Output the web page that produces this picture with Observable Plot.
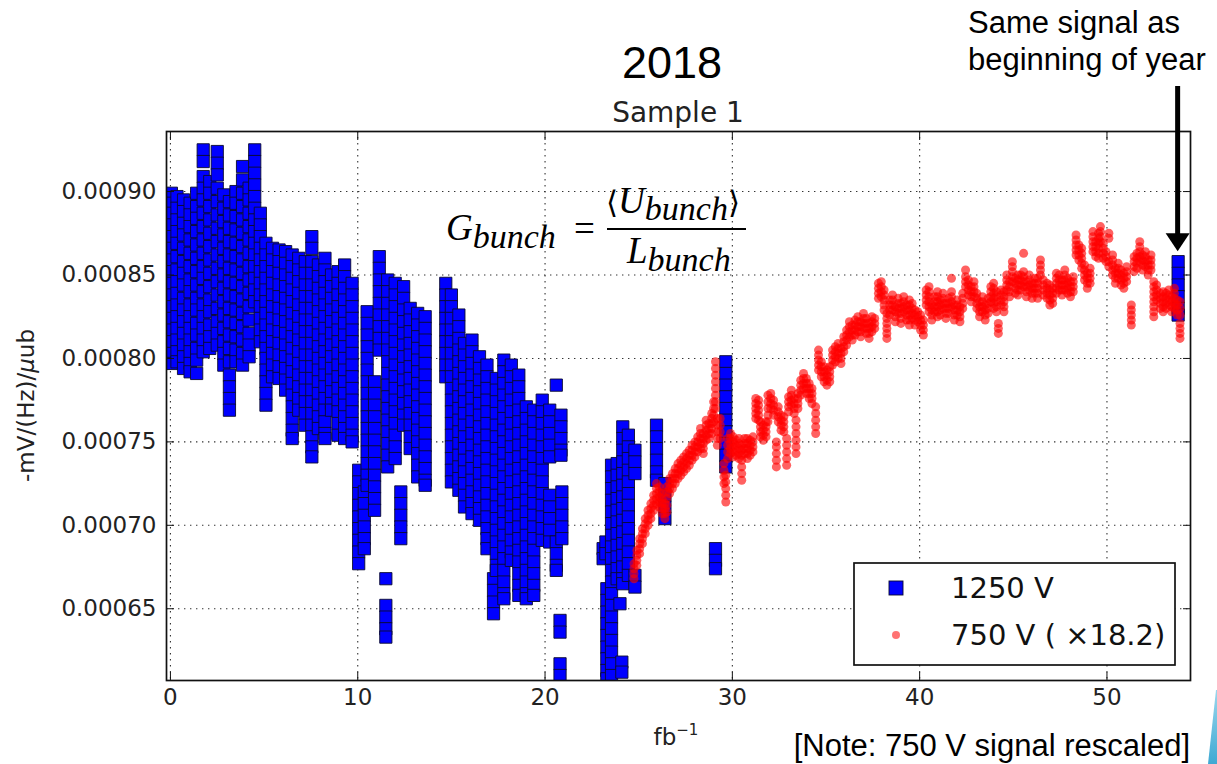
<!DOCTYPE html>
<html>
<head>
<meta charset="utf-8">
<script src="https://cdn.jsdelivr.net/npm/d3@7"></script>
<script src="https://cdn.jsdelivr.net/npm/@observablehq/plot@0.6"></script>
<style>
  html, body { margin: 0; padding: 0; background: #fff; }
  #chart { position: relative; width: 1217px; height: 764px; overflow: hidden; }
</style>
</head>
<body>
<div id="chart"></div>
<script>
// ---------------------------------------------------------------------------
// Gain per bunch vs. integrated luminosity, 2018, sample 1
// ---------------------------------------------------------------------------
const xTicks = [0, 10, 20, 30, 40, 50];
const yTicks = [0.00065, 0.00070, 0.00075, 0.00080, 0.00085, 0.00090];
const seriesNames = ["1250 V", "750 V ( \u00d718.2)"];
const gainUnit = 1e-6; // gains below are listed in units of 1e-6 mV/(Hz/μb)

// 1250 V running: one row per fill -> [fb^-1, gains]
const blue1250 = [
  [0.05, [899,893,887,880,873,866,859,852,845,838,831,824,817,810,803,797]],
  [0.35, [897,890,883,876,869,861,853,846,839,832,825,818,811,804,798]],
  [0.7,  [895,888,881,874,866,858,851,844,836,829,822,815,808,801,794]],
  [1.05, [893,886,879,871,863,855,847,840,832,825,818,811,804,797,792]],
  [1.4,  [899,891,884,876,868,860,852,844,836,829,821,814,806,799,791]],
  [1.75, [925,918,909,902,895,887,879,871,863,855,848,840,832,825,818,811,804]],
  [2.1,  [906,899,891,883,875,867,859,851,843,835,828,820,813,806]],
  [2.5,  [924,917,910,902,894,886,878,870,862,854,846,838,830,822,815,808]],
  [2.85, [898,890,882,874,866,858,850,842,834,826,818,810,803,796]],
  [3.15, [894,886,878,870,862,854,846,838,830,822,814,806,798,790,783,776,769]],
  [3.5,  [900,893,885,877,869,861,853,845,837,829,821,813,805,798]],
  [3.85, [915,907,899,891,883,875,867,859,851,843,835,827,819,811,803,796]],
  [4.2,  [902,895,887,879,871,863,855,847,839,831,823,815,808,801]],
  [4.5,  [925,918,911,904,897,890,883,876,869,862,855,848,841,834]],
  [4.8,  [887,880,873,866,859,852,845,838,831,824,817,810]],
  [5.1,  [869,862,855,848,841,834,827,820,813,806,800,793,786,779,772]],
  [5.45, [866,859,852,845,838,831,824,817,810,803,796,789]],
  [5.8,  [865,858,851,844,837,830,823,816,809,802,795,788]],
  [6.15, [864,857,850,843,836,829,822,815,808,801,794,787,781]],
  [6.5,  [862,855,848,841,834,827,820,813,806,799,792,785,778,771,764,757,752]],
  [6.85, [860,853,846,839,832,825,818,811,804,797,790,783,776,769]],
  [7.2,  [858,851,844,837,830,823,816,809,802,795,788,781,774,767,760]],
  [7.55, [873,866,858,851,844,837,830,823,816,809,802,795,788,781,774,767,760,753,747,741]],
  [7.9,  [856,849,842,835,828,821,814,807,800,793,786,779,772,765,758]],
  [8.25, [860,853,846,839,832,825,818,811,804,797,790,783,776,769,762,755,752]],
  [8.6,  [850,843,836,829,822,815,808,801,794,787,780,773,769]],
  [8.95, [852,845,838,831,824,817,810,803,796,789,782,775,768,761,754]],
  [9.3,  [856,849,842,835,828,821,814,807,800,793,786,779,772,765,758,752]],
  [9.7,  [845,838,831,824,817,810,803,796,789,782,775,768,761,754,750]],
  [10.05,[733,726,719,712,705,698,691,684,677]],
  [10.35,[720,713,706,699,692,686]],
  [10.5, [828,821,814,807,800,793,786,779,772,765,758,751,744,737,730,724]],
  [10.9, [786,779,772,765,758,751,744,737,730,723,716,709]],
  [11.15,[861,854,847,840,833,826,819,812,805]],
  [11.5, [668,652,645,638,633]],
  [11.6, [847,840,833,826,819,812,805,798,791,784,777,770,763,756,749,742,735]],
  [12.0, [845,838,831,824,817,810,803,796,789,782,775,768,761,754,747,740]],
  [12.3, [720,713,706,699,692]],
  [12.45,[843,836,829,822,815,808,801,794,787,780,773,766,760]],
  [12.8, [830,823,816,809,802,795,788,781,774,767,760,753,746]],
  [13.2, [827,820,813,806,799,792,785,778,771,764,757,750,743,736,729]],
  [13.6, [825,818,811,804,797,790,783,776,769,762,755,748,741,734,727,724]],
  [14.7, [845,838,831,824,817,810,803,796,789]],
  [15.0, [838,831,824,817,810,803,796,789,782,775,768,761,754,747,740,733,726]],
  [15.4, [826,819,812,805,798,791,784,777,770,763,756,749,742,735,728,721]],
  [15.7, [809,802,795,788,781,774,767,760,753,746,739,732,725,718,711]],
  [16.1, [811,804,797,790,783,776,769,762,755,748,741,734,727,720,713,707]],
  [16.5, [801,794,787,780,773,766,759,752,745,738,731,724,717,710,703]],
  [16.9, [796,789,782,775,768,761,754,747,740,733,726,719,712,705,698,692,686]],
  [17.25,[668,661,654,647]],
  [17.4, [788,781,774,767,760,753,746,739,732,725,718,711,704,697,690,683,676,673]],
  [17.8, [799,792,785,778,771,764,757,750,743,736,729,722,715,708,701,694,687,680,673,666,659,656]],
  [18.2, [796,789,782,775,768,761,754,747,740,733,726,719,712,705,698,691,684,679]],
  [18.6, [790,783,776,769,762,755,748,741,734,727,720,713,706,699,692,685,678,671,664,658]],
  [19.0, [771,764,757,750,743,736,729,722,715,708,701,694,687,680,673,666,659,656]],
  [19.4, [769,762,755,748,741,734,727,720,713,706,699,692,685,678,671,664,658]],
  [19.85,[775,768,761,754,747,740,733,726,719,712,705,698,691]],
  [20.25,[769,762,755,748,741,718,711,704,697,690]],
  [20.6, [784,690,683,676,673]],
  [20.8, [643,636,617,610]],
  [20.85,[766,759,752,745,742]],
  [20.9, [720,713,706,699,692]],
  [23.1, [686,680]],
  [23.25,[690,683]],
  [23.3, [662,655,648,641,634,627,620,613,608]],
  [23.55,[736,729,722,715,708,701,694,687,680,673,666,659,652,645,638,631,624,617,610]],
  [23.85,[737,730,723,716,709,702,695,688,681,674,668]],
  [24.0, [653]],
  [24.1, [618,612]],
  [24.15,[759,752,745,738,731,724,717,710,703,696,689,682,675,668,665]],
  [24.45,[754,747,740,733,726,719,712,705,698,691,684,677,670]],
  [24.8, [745,738,731,670,663]],
  [25.95,[760,753,746,739,732,727]],
  [26.4, [725,718,711,704]],
  [29.1, [686,679,674]],
  [29.65,[798,791,784,777,770,763,756,749,742,735]],
  [53.8, [858,851,844,837,830,826]]
];

// 750 V running, rescaled by x18.2: [fb^-1, gains]
const red750 = [
  [24.75,[668,671,674,677]],[24.9,[676,679,682,685]],[25.05,[683,686,689,692]],[25.2,[689,692,695,698]],
  [25.35,[695,698,701,704]],[25.5,[700,703,706,709]],[25.65,[704,707,710,713]],[25.8,[709,712,715,718]],
  [25.95,[713,716,719,722,725]],[26.1,[711,714,717,720,723]],[26.25,[707,710,713,716,719]],
  [26.4,[704,707,710,713]],[26.5,[708,712,716,720,723]],[26.65,[719,722,725,728]],[26.8,[722,725,728,731]],
  [26.95,[725,728,731,734]],[27.1,[728,731,734,737]],[27.25,[730,733,736,739]],[27.4,[732,735,738,741]],
  [27.55,[734,737,740,743]],[27.7,[736,739,742,745]],[27.85,[739,742,745,748]],[28.0,[741,744,747,750]],
  [28.15,[744,747,750,753]],[28.3,[746,749,752,755,758]],[28.45,[743,746,749,752,755]],
  [28.6,[751,754,757,760,763]],[28.75,[752,755,758,761]],[28.9,[755,758,761,764,767]],
  [29.0,[762,766,770,774]],[29.1,[770,774,778,782,786,790,794,798]],[29.2,[748,752,756,760,764]],
  [29.35,[752,756,760,764]],[29.55,[725,729,733,737]],[29.65,[714,718,722,726,730]],
  [29.75,[740,744,748,752]],[29.9,[743,746,749,752,755]],[30.05,[741,744,747,750,753]],
  [30.2,[742,745,748,751]],[30.35,[740,743,746,749,752]],[30.5,[727,731,735,739,742,745,748]],
  [30.65,[743,746,749,752]],[30.8,[740,743,746,749,752]],[30.95,[742,745,748,751]],
  [31.1,[744,747,750,753]],[31.25,[764,767,770,773,776]],[31.4,[763,766,769,772,775]],
  [31.5,[753,756,759,762]],[31.65,[751,754,757,760]],[31.8,[753,756,759,762]],
  [31.9,[762,766,770,774,778]],[32.05,[770,773,776,779]],[32.2,[766,769,772,775]],
  [32.35,[735,739,743,747,750]],[32.45,[762,765,768,771]],[32.6,[757,760,763,766]],
  [32.75,[756,759,762,765]],[32.9,[736,740,744,748,752]],[33.0,[768,771,774,777]],
  [33.15,[772,775,778,781]],[33.3,[767,770,773,776]],[33.4,[743,747,751,755,759,763]],
  [33.5,[770,773,776,779]],[33.65,[778,781,784,787]],[33.8,[782,785,788,791]],
  [33.95,[779,782,785,788]],[34.1,[776,779,782,785]],[34.25,[773,776,779,782]],
  [34.45,[755,759,763,767,771]],[34.6,[793,796,799,802,805]],[34.75,[789,792,795,798]],
  [34.9,[786,789,792,795]],[35.05,[784,787,790,793]],[35.2,[786,789,792,795]],
  [35.35,[796,799,802,805]],[35.5,[798,801,804,807]],[35.65,[800,803,806,809]],
  [35.8,[797,800,803,806]],[35.95,[804,807,810,813]],[36.1,[808,811,814,817]],
  [36.25,[813,816,819,822]],[36.4,[811,814,817,820]],[36.55,[814,817,820,823]],
  [36.7,[816,819,822,825]],[36.85,[813,816,819,822]],[37.0,[818,821,824,827]],
  [37.15,[815,818,821,824]],[37.3,[812,815,818,821]],[37.45,[816,819,822,825]],
  [37.6,[818,821,824]],[37.8,[836,839,842,845]],[37.95,[837,840,843,846]],
  [38.1,[829,832,835,838,841]],[38.25,[812,815,818,821,824,827]],[38.4,[826,829,832,835]],
  [38.55,[829,832,835,838]],[38.7,[822,825,828,831]],[38.85,[827,830,833,836]],
  [39.0,[821,824,827,830,833]],[39.15,[828,831,834,837]],[39.3,[823,826,829,832]],
  [39.45,[820,823,826,829,832,835]],[39.6,[824,827,830,833]],[39.75,[820,823,826,829]],
  [39.9,[822,825,828]],[40.05,[817,820,823,826]],[40.2,[814,817,820,823]],
  [40.35,[832,835,838,841]],[40.5,[828,831,834,837,840,843]],[40.65,[823,826,829,832]],
  [40.8,[828,831,834,837]],[40.95,[825,828,831,834,837,840]],[41.1,[826,829,832,835]],
  [41.25,[830,833,836,839]],[41.4,[824,827,830,833]],[41.55,[827,830,833,836]],
  [41.7,[831,834,837,840,848]],[41.85,[823,826,829,832]],[42.0,[826,829,832,835]],
  [42.15,[822,825,828,831]],[42.3,[830,833,836,839]],[42.45,[843,846,849,853]],
  [42.6,[838,841,844,847]],[42.75,[834,837,840,843]],[42.9,[837,840,843,846]],
  [43.05,[830,833,836,839]],[43.2,[825,828,831,834]],[43.35,[828,831,834,837]],
  [43.5,[823,826,829,832]],[43.65,[827,830,833,836]],[43.8,[834,837,840,843]],
  [43.95,[830,833,836,839,842,845]],[44.1,[828,831,834,837,840]],[44.2,[815,818,821]],
  [44.35,[832,835,838,841]],[44.5,[828,831,834,837,840]],[44.65,[841,844,847,850]],
  [44.8,[837,840,843,846]],[44.95,[846,849,852,855,858]],[45.1,[839,842,845,848]],
  [45.25,[838,841,844,847,850]],[45.4,[841,844,847,850]],[45.55,[843,846,849,852,863]],
  [45.7,[837,840,843,846]],[45.85,[841,844,847,850]],[46.0,[836,839,842,845]],
  [46.15,[839,842,845,848]],[46.3,[836,839,842,845,848]],[46.45,[850,853,856,859]],
  [46.6,[838,841,844,847]],[46.8,[836,839,842,845]],[46.95,[832,835,838,841,844]],
  [47.1,[833,836,839,842]],[47.3,[839,842,845,848,851]],[47.45,[841,844,847,850]],
  [47.6,[838,841,844,847]],[47.75,[841,844,847,850,853]],[47.9,[839,842,845,848]],
  [48.05,[837,840,843,846]],[48.2,[840,843,846,849]],[48.35,[862,865,868,871,874]],
  [48.5,[859,862,865,868]],[48.65,[854,857,860,863,866]],[48.8,[847,850,853,856]],
  [48.95,[842,845,848,851]],[49.1,[845,848,851,854]],[49.25,[864,867,870,873,876]],
  [49.4,[861,864,867,870]],[49.55,[860,863,866,869,872,875]],[49.65,[870,873,876,879]],
  [49.8,[860,863,866,869]],[49.95,[858,861,864]],[50.1,[855,858,872,875]],
  [50.3,[850,853,856,859,862]],[50.45,[845,848,851,854]],[50.6,[848,851,854,857]],
  [50.75,[844,847,850,853]],[50.9,[842,845,848,851]],[51.05,[846,849,852,855]],
  [51.3,[820,823,826,829,832]],[51.45,[852,855,858,861]],[51.6,[854,857,860,863]],
  [51.75,[858,861,864,867,870]],[51.9,[853,856,859,862]],[52.05,[855,858,861,864]],
  [52.2,[850,853,856,859]],[52.35,[853,856,859,862]],[52.5,[825,828,831,834,837,840,843,846]],
  [52.65,[835,838,841,844]],[52.85,[830,833,836,839]],[53.0,[828,831,834,837,840]],
  [53.15,[830,833,836,839]],[53.3,[832,835,838,841]],[53.45,[828,831,834,837]],
  [53.6,[830,833,836,839,842]],[53.75,[826,829,832,835]],[53.9,[812,815,818,821,826,830,834]]
];

// the fill that the arrow points at
const arrowTarget = {x: 53.8, y: 864e-6};

// ---------------------------------------------------------------------------
const toRows = (cols) => cols.flatMap(([x, ys]) => ys.map((g) => ({x, y: g * gainUnit})));
const bluePts = toRows(blue1250);
const redPts = toRows(red750);

const W = 1217, H = 764;
const M = {top: 131, right: 27, bottom: 84, left: 166};
const dotted = {stroke: "#333", strokeWidth: 1.1, strokeDasharray: "1.4,4.6"};

const chart = Plot.plot({
  width: W,
  height: H,
  marginTop: M.top,
  marginRight: M.right,
  marginBottom: M.bottom,
  marginLeft: M.left,
  style: {fontFamily: "'DejaVu Sans', sans-serif", fontSize: "23px", color: "#222", background: "#fff"},
  x: {domain: [-0.21, 54.46], label: null},
  y: {domain: [0.000607, 0.000936], label: null},
  marks: [
    Plot.gridX(xTicks, {...dotted, strokeOpacity: 1}),
    Plot.gridY(yTicks, {...dotted, strokeOpacity: 1}),
    Plot.dot(bluePts, {x: "x", y: "y", symbol: "square", r: 6.9, fill: "#0000ff", stroke: "#0b0b2e", strokeWidth: 0.9, clip: true}),
    Plot.dot(redPts, {x: "x", y: "y", r: 4.5, fill: "#ff0000", fillOpacity: 0.62, stroke: "none", clip: true}),
    Plot.frame({stroke: "#111", strokeWidth: 1.7}),
    Plot.axisX(xTicks, {anchor: "bottom", tickSize: -8, tickPadding: 16, tickFormat: (d) => String(d), stroke: "#111"}),
    Plot.axisX(xTicks, {anchor: "top", tickSize: -8, tickFormat: () => "", stroke: "#111"}),
    Plot.axisY(yTicks, {anchor: "left", tickSize: -8, tickPadding: 18, tickFormat: d3.format(".5f"), stroke: "#111"}),
    Plot.axisY(yTicks, {anchor: "right", tickSize: -8, tickFormat: () => "", stroke: "#111"})
  ]
});

document.getElementById("chart").appendChild(chart);

// ---------------------------------------------------------------------------
// Titles, axis labels, formula, legend and annotations
// ---------------------------------------------------------------------------
const svg = d3.select(chart);
const sx = chart.scale("x"), sy = chart.scale("y");
const frameCx = (M.left + W - M.right) / 2;
const sans = "'Liberation Sans', Arial, sans-serif";
const dejavu = "'DejaVu Sans', sans-serif";
const ann = svg.append("g").attr("text-anchor", "start");

ann.append("text").attr("x", frameCx - 6).attr("y", 78).attr("text-anchor", "middle")
  .attr("font-family", sans).attr("font-size", 45).attr("fill", "#000").text("2018");
ann.append("text").attr("x", frameCx).attr("y", 122).attr("text-anchor", "middle")
  .attr("font-family", dejavu).attr("font-size", 28).attr("fill", "#222").text("Sample 1");

// y-axis label
const yl = ann.append("text").attr("transform", `translate(34,${(M.top + H - M.bottom) / 2}) rotate(-90)`)
  .attr("text-anchor", "middle").attr("font-family", dejavu).attr("font-size", 23).attr("fill", "#222");
yl.append("tspan").text("-mV/(Hz)/");
yl.append("tspan").attr("font-style", "italic").text("\u03bc");
yl.append("tspan").text("ub");

// x-axis label
const xl = ann.append("text").attr("x", 676).attr("y", 745).attr("text-anchor", "middle")
  .attr("font-family", dejavu).attr("font-size", 23).attr("fill", "#222");
xl.append("tspan").text("fb");
xl.append("tspan").attr("font-size", 15).attr("dy", -10).text("\u22121");

// gain definition
const serif = "'Liberation Serif', 'DejaVu Serif', serif";
const fg = ann.append("g").attr("font-family", serif).attr("fill", "#000").attr("text-anchor", "start");
const gT = fg.append("text").attr("x", 446).attr("y", 240).attr("font-size", 37).attr("font-style", "italic");
gT.append("tspan").text("G");
gT.append("tspan").attr("font-size", 34).attr("dy", 8).text("bunch");
fg.append("text").attr("x", 574).attr("y", 241).attr("font-size", 37).text("=");
const numT = fg.append("text").attr("x", 606).attr("y", 213).attr("font-size", 37);
numT.append("tspan").attr("font-family", dejavu).attr("font-size", 31).text("\u27e8");
numT.append("tspan").attr("font-style", "italic").text("U");
numT.append("tspan").attr("font-style", "italic").attr("font-size", 34).attr("dy", 7).text("bunch");
numT.append("tspan").attr("font-family", dejavu).attr("font-size", 31).attr("dy", -7).text("\u27e9");
fg.append("line").attr("x1", 607).attr("x2", 746).attr("y1", 229).attr("y2", 229)
  .attr("stroke", "#000").attr("stroke-width", 2);
const denT = fg.append("text").attr("x", 627).attr("y", 263).attr("font-size", 37).attr("font-style", "italic");
denT.append("tspan").text("L");
denT.append("tspan").attr("font-size", 34).attr("dy", 8).text("bunch");

// legend
const lg = ann.append("g");
lg.append("rect").attr("x", 854).attr("y", 563).attr("width", 321).attr("height", 102)
  .attr("fill", "#fff").attr("stroke", "#111").attr("stroke-width", 1.7);
lg.append("rect").attr("x", 889).attr("y", 581).attr("width", 14).attr("height", 14)
  .attr("fill", "#0000ff").attr("stroke", "#0b0b2e").attr("stroke-width", 0.9);
lg.append("circle").attr("cx", 896).attr("cy", 635).attr("r", 4).attr("fill", "#ff0000").attr("fill-opacity", 0.55);
lg.selectAll("text.entry").data(seriesNames).join("text").attr("class", "entry")
  .attr("x", 951).attr("y", (d, i) => 598 + i * 47).attr("text-anchor", "start")
  .attr("font-family", dejavu).attr("font-size", 29).attr("fill", "#111").text((d) => d);

// arrow pointing at the last 1250 V fill
const ax = sx.apply(arrowTarget.x), ay = sy.apply(arrowTarget.y);
ann.append("line").attr("x1", ax).attr("x2", ax).attr("y1", 86).attr("y2", ay - 14)
  .attr("stroke", "#000").attr("stroke-width", 5);
ann.append("path").attr("d", `M${ax - 12},${ay - 18}L${ax + 12},${ay - 18}L${ax},${ay}Z`).attr("fill", "#000");

const an = ann.append("text").attr("font-family", sans).attr("font-size", 31).attr("fill", "#000").attr("text-anchor", "start");
an.append("tspan").attr("x", 968).attr("y", 33).text("Same signal as");
an.append("tspan").attr("x", 968).attr("y", 70).text("beginning of year");

ann.append("text").attr("x", 1190).attr("y", 756).attr("text-anchor", "end")
  .attr("font-family", sans).attr("font-size", 31).attr("fill", "#000").text("[Note: 750 V signal rescaled]");

// slide corner accent
const defs = svg.append("defs");
const grad = defs.append("linearGradient").attr("id", "accent").attr("x1", 0).attr("y1", 0).attr("x2", 0).attr("y2", 1);
grad.append("stop").attr("offset", "0").attr("stop-color", "#9ad6ec");
grad.append("stop").attr("offset", "1").attr("stop-color", "#3fa9d3");
svg.append("path").attr("d", "M1216,690L1217,690L1217,764L1208,764Z").attr("fill", "url(#accent)");
</script>
</body>
</html>
